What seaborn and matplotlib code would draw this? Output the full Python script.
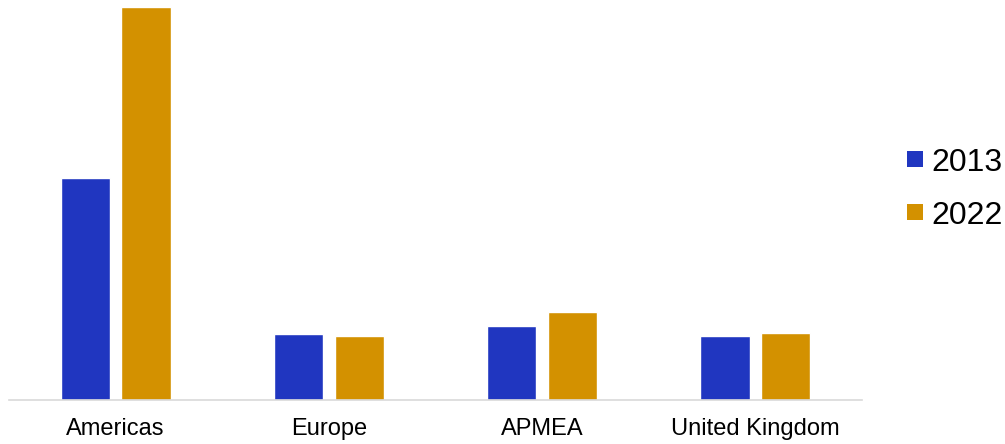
import matplotlib
matplotlib.use("Agg")
import matplotlib.pyplot as plt
from matplotlib.lines import Line2D
import seaborn as sns
import pandas as pd

# Regional values for the two years
regions = ["Americas", "Europe", "APMEA", "United Kingdom"]
values_2013 = [222, 66, 74, 64]
values_2022 = [393, 64, 88, 67]
years = ["2013", "2022"]
colors = ["#2036c0", "#d39100"]

df = pd.DataFrame({
    "region": regions * 2,
    "year": [years[0]] * len(regions) + [years[1]] * len(regions),
    "value": values_2013 + values_2022,
})

sns.set_theme(style="white")
plt.rcParams["font.family"] = ["Liberation Sans", "DejaVu Sans"]
plt.rcParams["text.color"] = "black"

fig = plt.figure(figsize=(10.05, 4.44), dpi=100)
ax = fig.add_axes([9 / 1005, 44 / 444, 853 / 1005, 400 / 444])

sns.barplot(data=df, x="region", y="value", hue="year", order=regions,
            hue_order=years, palette=colors, width=0.57, gap=0.19,
            saturation=1, errorbar=None, legend=False, ax=ax)

ax.set_xlim(-0.5, 3.5)
ax.set_ylim(0, 400)
ax.set_xlabel("")
ax.set_ylabel("")
ax.set_yticks([])
for side in ["left", "right", "top"]:
    ax.spines[side].set_visible(False)
ax.spines["bottom"].set_color("#d9d9d9")
ax.spines["bottom"].set_linewidth(1.2)
ax.tick_params(axis="x", length=0, pad=13, labelsize=17, labelcolor="black")

handles = [Line2D([0], [0], marker="s", linestyle="none", markersize=11,
                  markerfacecolor=c, markeredgewidth=0) for c in colors]
fig.legend(handles, years, loc="center left", bbox_to_anchor=(907 / 1005, 0.574),
           frameon=False, fontsize=23, handlelength=0.5, handletextpad=0.25,
           labelspacing=0.72, borderpad=0, borderaxespad=0)

fig.savefig("out.png", dpi=100)
